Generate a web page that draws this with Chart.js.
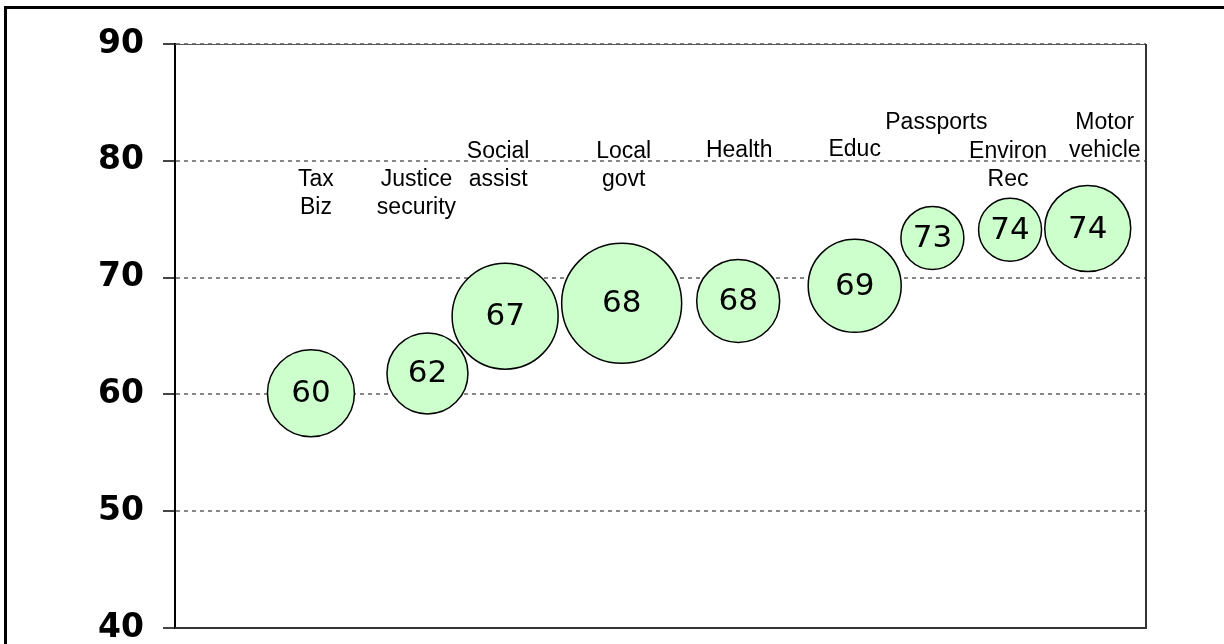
<!DOCTYPE html>
<html>
<head>
<meta charset="utf-8">
<script src="https://cdn.jsdelivr.net/npm/chart.js@4.4.1/dist/chart.umd.min.js"></script>
<style>
  html, body { margin: 0; padding: 0; background: #fff; }
  #wrap { position: relative; width: 1224px; height: 644px; }
</style>
</head>
<body>
<div id="wrap"><canvas id="bubbleChart" width="1224" height="644"></canvas></div>
<script>
// Service areas, their position along the row, score and bubble size
const categories = [
  ['Tax', 'Biz'], ['Justice', 'security'], ['Social', 'assist'], ['Local', 'govt'],
  ['Health'], ['Educ'], ['Passports'], ['Environ', 'Rec'], ['Motor', 'vehicle']
];
const xPositions = [14, 26, 34, 46, 58, 70, 78, 86, 94];
const scores = [60.1, 61.8, 66.7, 67.8, 68.0, 69.3, 73.4, 74.1, 74.2];
const bubbleSizes = [43.5, 40.5, 53, 60, 41.5, 46.5, 31.5, 31.5, 43];
const yTicks = [40, 50, 60, 70, 80, 90];

// Where each name sits: first baseline (in score units) and a small sideways nudge
const labelBaseline = [77.8, 77.8, 80.2, 80.2, 80.3, 80.4, 82.7, 80.2, 82.7];
const labelShift = [5, -11, -7, 2, 1, 0, 4, -2, 17];
const LINE_HEIGHT = 28;

const points = xPositions.map((x, i) => ({ x: x, y: scores[i], r: bubbleSizes[i] }));

// White page with a heavy frame on the left and top
const pageFrame = {
  id: 'pageFrame',
  beforeDraw(chart) {
    const ctx = chart.ctx;
    ctx.save();
    ctx.fillStyle = '#fff';
    ctx.fillRect(0, 0, chart.width, chart.height);
    ctx.strokeStyle = '#000';
    ctx.lineWidth = 3;
    ctx.beginPath();
    ctx.moveTo(5.5, chart.height + 5);
    ctx.lineTo(5.5, 7.5);
    ctx.lineTo(chart.width + 5, 7.5);
    ctx.stroke();
    ctx.restore();
  }
};

// Solid edges of the plot area (top, right, bottom)
const plotFrame = {
  id: 'plotFrame',
  afterDraw(chart) {
    const { ctx, chartArea: a } = chart;
    ctx.save();
    ctx.strokeStyle = '#555';
    ctx.lineWidth = 1;
    ctx.beginPath();
    ctx.moveTo(a.left, a.top + 0.5);
    ctx.lineTo(a.right, a.top + 0.5);
    ctx.stroke();
    ctx.strokeStyle = '#333';
    ctx.lineWidth = 2;
    ctx.beginPath();
    ctx.moveTo(a.right, a.top);
    ctx.lineTo(a.right, a.bottom);
    ctx.lineTo(a.left, a.bottom);
    ctx.stroke();
    ctx.restore();
  }
};

// Score inside each bubble and the service name above it
const bubbleLabels = {
  id: 'bubbleLabels',
  afterDatasetsDraw(chart) {
    const ctx = chart.ctx;
    const yScale = chart.scales.y;
    const meta = chart.getDatasetMeta(0);
    ctx.save();
    meta.data.forEach((el, i) => {
      ctx.fillStyle = '#000';
      ctx.font = '31px "DejaVu Sans", Verdana, sans-serif';
      ctx.textAlign = 'center';
      ctx.textBaseline = 'middle';
      ctx.fillText(String(Math.round(scores[i])), el.x, el.y + 1);

      ctx.font = '23px "Liberation Sans", Arial, sans-serif';
      ctx.textBaseline = 'alphabetic';
      const base = yScale.getPixelForValue(labelBaseline[i]);
      categories[i].forEach((line, k) => {
        ctx.fillText(line, el.x + labelShift[i], base + k * LINE_HEIGHT);
      });
    });
    ctx.restore();
  }
};

new Chart(document.getElementById('bubbleChart'), {
  type: 'bubble',
  data: {
    datasets: [{
      data: points,
      backgroundColor: '#CCFFCC',
      borderColor: '#000',
      borderWidth: 1.5,
      hoverBorderWidth: 1.5
    }]
  },
  plugins: [pageFrame, plotFrame, bubbleLabels],
  options: {
    responsive: false,
    animation: false,
    devicePixelRatio: 1,
    layout: {
      autoPadding: false,
      padding: { top: 44, right: 78, bottom: 16, left: 0 }
    },
    scales: {
      x: {
        type: 'linear',
        min: 0,
        max: 100,
        display: false
      },
      y: {
        min: 40,
        max: 90,
        afterBuildTicks(scale) {
          scale.ticks = yTicks.map(v => ({ value: v }));
        },
        afterFit(scale) {
          scale.width = 175;
          scale.paddingTop = 0;
          scale.paddingBottom = 0;
        },
        ticks: {
          color: '#000',
          padding: 19,
          font: { family: '"DejaVu Sans", Verdana, sans-serif', size: 33, weight: 'bold' }
        },
        grid: {
          color: '#888',
          lineWidth: 2,
          tickLength: 12,
          tickColor: '#444',
          tickWidth: 2,
          tickBorderDash: []
        },
        border: {
          color: '#000',
          width: 2,
          dash: [4, 4]
        }
      }
    },
    plugins: {
      legend: { display: false },
      tooltip: { enabled: false }
    }
  }
});
</script>
</body>
</html>
